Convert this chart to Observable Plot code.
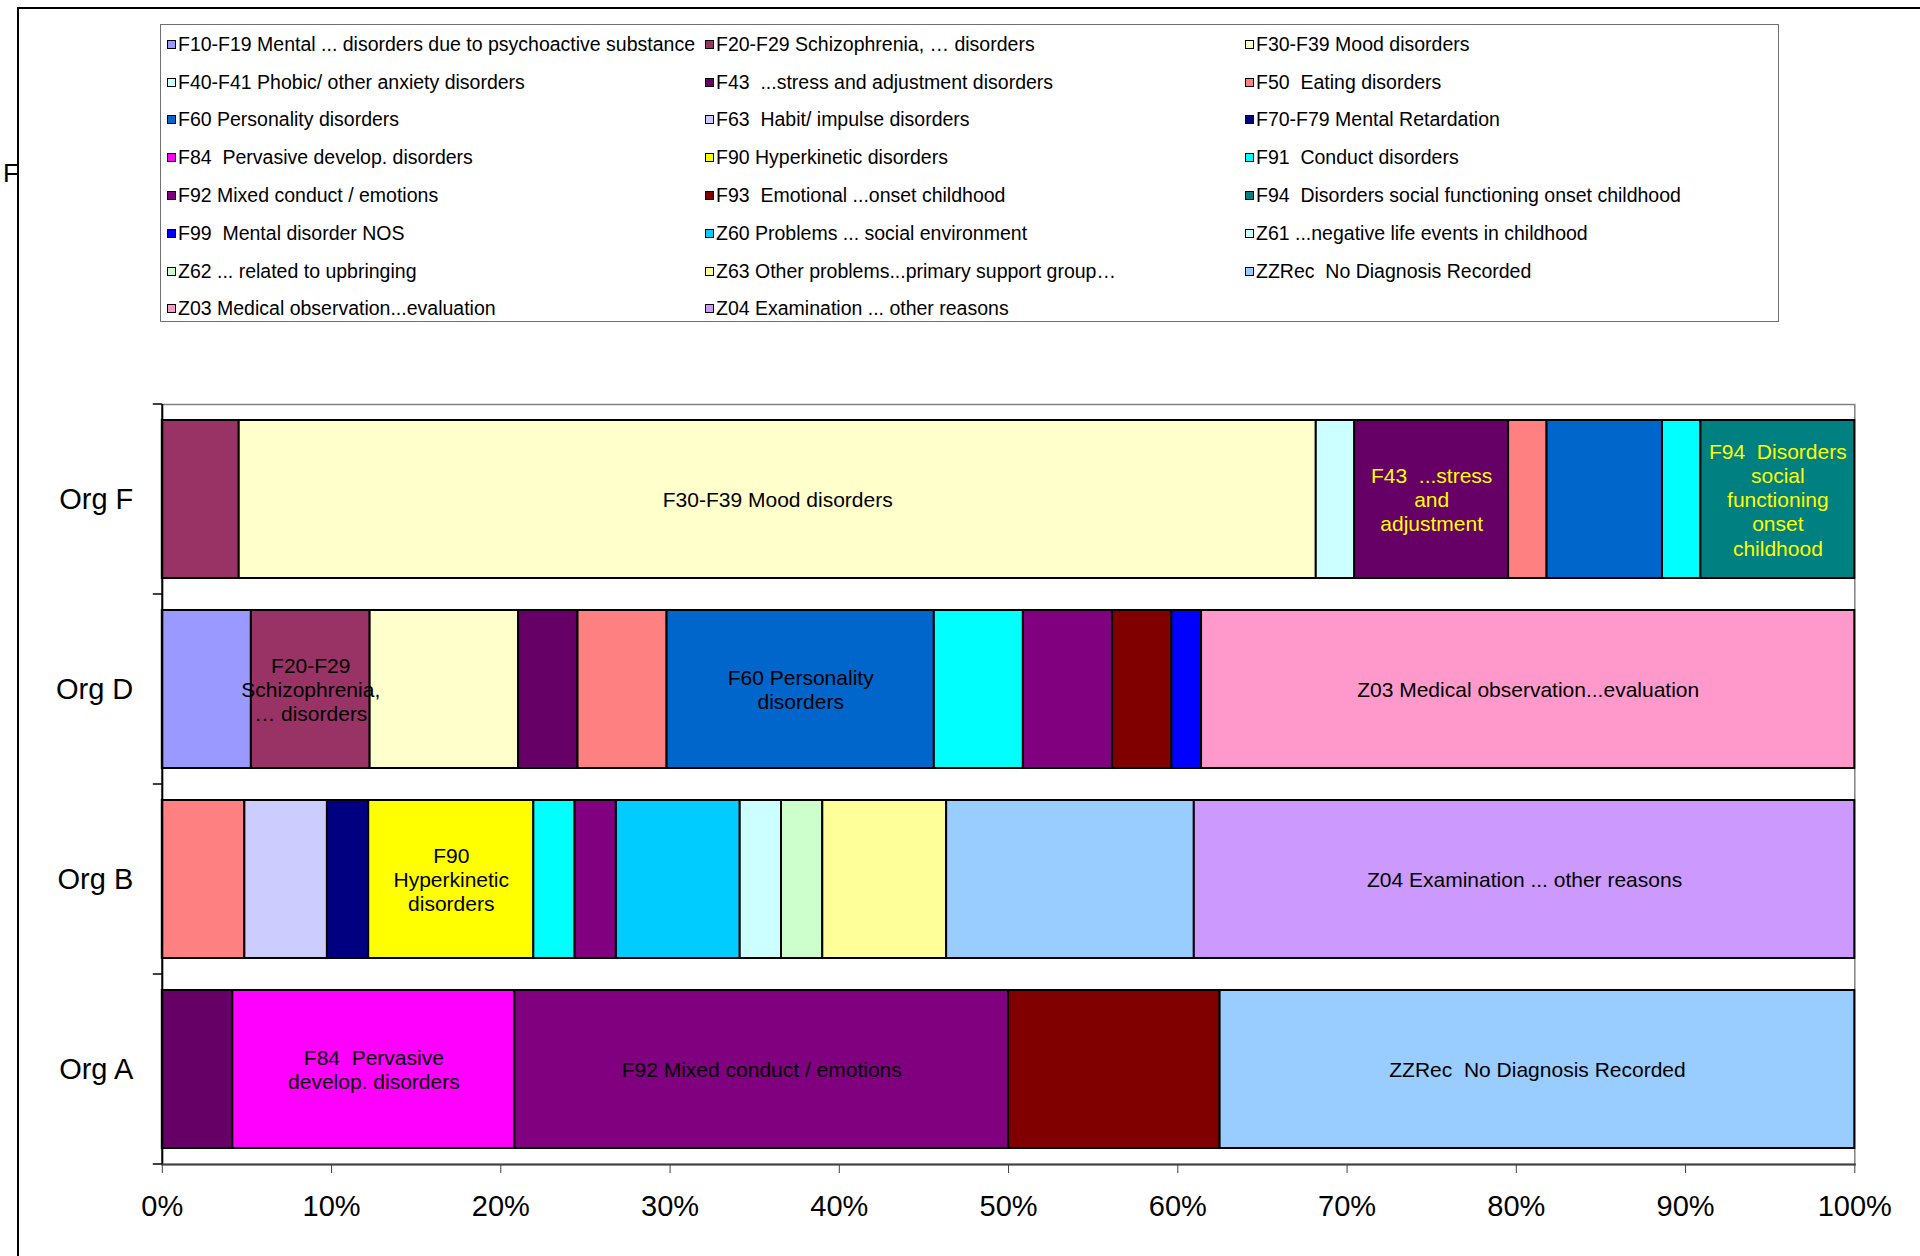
<!DOCTYPE html>
<html>
<head>
<meta charset="utf-8">
<script src="https://cdn.jsdelivr.net/npm/d3@7"></script>
<script src="https://cdn.jsdelivr.net/npm/@observablehq/plot@0.6"></script>
<style>
  html, body { margin: 0; padding: 0; background: #fff; }
  #chart { position: relative; width: 1920px; height: 1256px; overflow: hidden; font-family: "Liberation Sans", Arial, sans-serif; }
  #chart svg { position: absolute; left: 0; top: 0; }
  #chart svg text { white-space: pre; }
  .frame-left { position: absolute; left: 17px; top: 7px; width: 2px; height: 1249px; background: #000; }
  .frame-top { position: absolute; left: 17px; top: 7px; width: 1903px; height: 2px; background: #000; }
  .cut { position: absolute; left: 3px; top: 158px; font-size: 26px; line-height: 30px; color: #000; }
  #legend { position: absolute; left: 160px; top: 24px; width: 1619px; height: 298px; box-sizing: border-box;
            border: 1.5px solid #707070; padding-left: 5.5px; padding-top: 0.5px; display: grid;
            grid-template-columns: 538px 540px 1fr; grid-auto-rows: 37.8px; background: #fff; z-index: 2; }
  .item { display: flex; align-items: center; font-size: 19.5px; white-space: pre; color: #000; }
  .sw { width: 7px; height: 7px; border: 1.5px solid #000; margin-right: 2.5px; flex: none; }
</style>
</head>
<body>
<div id="chart">
  <div class="frame-left"></div>
  <div class="frame-top"></div>
  <div class="cut">F</div>
  <div id="legend"></div>
</div>
<script>
// Categories (top to bottom)
const orgs = ["Org F", "Org D", "Org B", "Org A"];

// Series (legend order = stacking order)
const series = [
  "F10-F19 Mental ... disorders due to psychoactive substance",
  "F20-F29 Schizophrenia, … disorders",
  "F30-F39 Mood disorders",
  "F40-F41 Phobic/ other anxiety disorders",
  "F43  ...stress and adjustment disorders",
  "F50  Eating disorders",
  "F60 Personality disorders",
  "F63  Habit/ impulse disorders",
  "F70-F79 Mental Retardation",
  "F84  Pervasive develop. disorders",
  "F90 Hyperkinetic disorders",
  "F91  Conduct disorders",
  "F92 Mixed conduct / emotions",
  "F93  Emotional ...onset childhood",
  "F94  Disorders social functioning onset childhood",
  "F99  Mental disorder NOS",
  "Z60 Problems ... social environment",
  "Z61 ...negative life events in childhood",
  "Z62 ... related to upbringing",
  "Z63 Other problems...primary support group…",
  "ZZRec  No Diagnosis Recorded",
  "Z03 Medical observation...evaluation",
  "Z04 Examination ... other reasons"
];

const seriesColors = [
  "#9999FF", "#993366", "#FFFFCC", "#CCFFFF", "#660066", "#FF8080", "#0066CC", "#CCCCFF",
  "#000080", "#FF00FF", "#FFFF00", "#00FFFF", "#800080", "#800000", "#008080", "#0000FF",
  "#00CCFF", "#CCFFFF", "#CCFFCC", "#FFFF99", "#99CCFF", "#FF99CC", "#CC99FF"
];

// Counts per organisation, aligned with `series`
const countsOrgF = [0, 2, 28, 1, 4, 1, 3, 0, 0, 0, 0, 1, 0, 0, 4, 0, 0, 0, 0, 0, 0, 0, 0];
const countsOrgD = [3, 4, 5, 0, 2, 3, 9, 0, 0, 0, 0, 3, 3, 2, 0, 1, 0, 0, 0, 0, 0, 22, 0];
const countsOrgB = [0, 0, 0, 0, 0, 2, 0, 2, 1, 0, 4, 1, 1, 0, 0, 0, 3, 1, 1, 3, 6, 0, 16];
const countsOrgA = [0, 0, 0, 0, 1, 0, 0, 0, 0, 4, 0, 0, 7, 3, 0, 0, 0, 0, 0, 0, 9, 0, 0];

// Segment labels drawn inside bars
const labelOrg    = ["Org F", "Org F", "Org F", "Org D", "Org D", "Org D", "Org B", "Org B", "Org A", "Org A", "Org A"];
const labelSeries = [2, 4, 14, 1, 6, 21, 10, 22, 9, 12, 20];
const labelText   = [
  "F30-F39 Mood disorders",
  "F43  ...stress\nand\nadjustment",
  "F94  Disorders\nsocial\nfunctioning\nonset\nchildhood",
  "F20-F29\nSchizophrenia,\n… disorders",
  "F60 Personality\ndisorders",
  "Z03 Medical observation...evaluation",
  "F90\nHyperkinetic\ndisorders",
  "Z04 Examination ... other reasons",
  "F84  Pervasive\ndevelop. disorders",
  "F92 Mixed conduct / emotions",
  "ZZRec  No Diagnosis Recorded"
];
const labelColor  = ["#000", "#FFFF00", "#FFFF00", "#000", "#000", "#000", "#000", "#000", "#000", "#000", "#000"];

const xTicks = [0, 0.1, 0.2, 0.3, 0.4, 0.5, 0.6, 0.7, 0.8, 0.9, 1];

// Build table
const allCounts = [countsOrgF, countsOrgD, countsOrgB, countsOrgA];
const rows = [];
orgs.forEach((org, i) => allCounts[i].forEach((c, j) => {
  if (c > 0) rows.push({org, series: series[j], count: c});
}));
const labelLookup = new Map();
labelOrg.forEach((o, k) => labelLookup.set(o + "|" + series[labelSeries[k]], {text: labelText[k], color: labelColor[k]}));
const labelIf = color => d => {
  const l = labelLookup.get(d.org + "|" + d.series);
  return l && l.color === color ? l.text : null;
};

// Legend (HTML)
const legend = document.getElementById("legend");
series.forEach((s, i) => {
  const item = document.createElement("div");
  item.className = "item";
  const sw = document.createElement("span");
  sw.className = "sw";
  sw.style.background = seriesColors[i];
  item.appendChild(sw);
  item.appendChild(document.createTextNode(s));
  legend.appendChild(item);
});

// Category boundary ticks on the left axis
const boundaryTicks = (index, scales, values, dims) => {
  const top = dims.marginTop, bottom = dims.height - dims.marginBottom;
  const x0 = scales.x(0);
  const g = d3.create("svg:g").attr("stroke", "#000").attr("stroke-width", 1.5);
  const n = orgs.length;
  for (let k = 0; k <= n; k++) {
    const yy = top + k * (bottom - top) / n;
    g.append("line").attr("x1", x0 - 9).attr("x2", x0).attr("y1", yy).attr("y2", yy);
  }
  return g.node();
};

const textOpts = {x: "count", y: "org", offset: "normalize", fontSize: 21, lineHeight: 1.15};

const chart = Plot.plot({
  width: 1920,
  height: 1256,
  marginLeft: 161.8,
  marginRight: 65.7,
  marginTop: 404,
  marginBottom: 92,
  x: {domain: [0, 1]},
  y: {domain: orgs, paddingInner: 0.168, paddingOuter: 0.084},
  color: {domain: series, range: seriesColors},
  style: {fontFamily: "'Liberation Sans', Arial, sans-serif", background: "transparent", color: "#000", overflow: "visible"},
  marks: [
    Plot.frame({stroke: "#808080", strokeWidth: 1.5}),
    Plot.barX(rows, Plot.stackX({x: "count", y: "org", fill: "series", offset: "normalize", stroke: "#000", strokeWidth: 2})),
    Plot.text(rows, Plot.stackX({...textOpts, text: labelIf("#000"), fill: "#000"})),
    Plot.text(rows, Plot.stackX({...textOpts, text: labelIf("#FFFF00"), fill: "#FFFF00"})),
    Plot.ruleX([0], {stroke: "#000", strokeWidth: 2}),
    Plot.frame({anchor: "bottom", stroke: "#404040", strokeWidth: 2}),
    boundaryTicks,
    Plot.axisX({ticks: xTicks, tickFormat: d3.format(".0%"), tickSize: 9, tickPadding: 22, fontSize: 29, label: null, stroke: "#404040"}),
    Plot.axisY({tickSize: 0, tickPadding: 29, fontSize: 29, label: null})
  ]
});
document.getElementById("chart").appendChild(chart);
</script>
</body>
</html>
